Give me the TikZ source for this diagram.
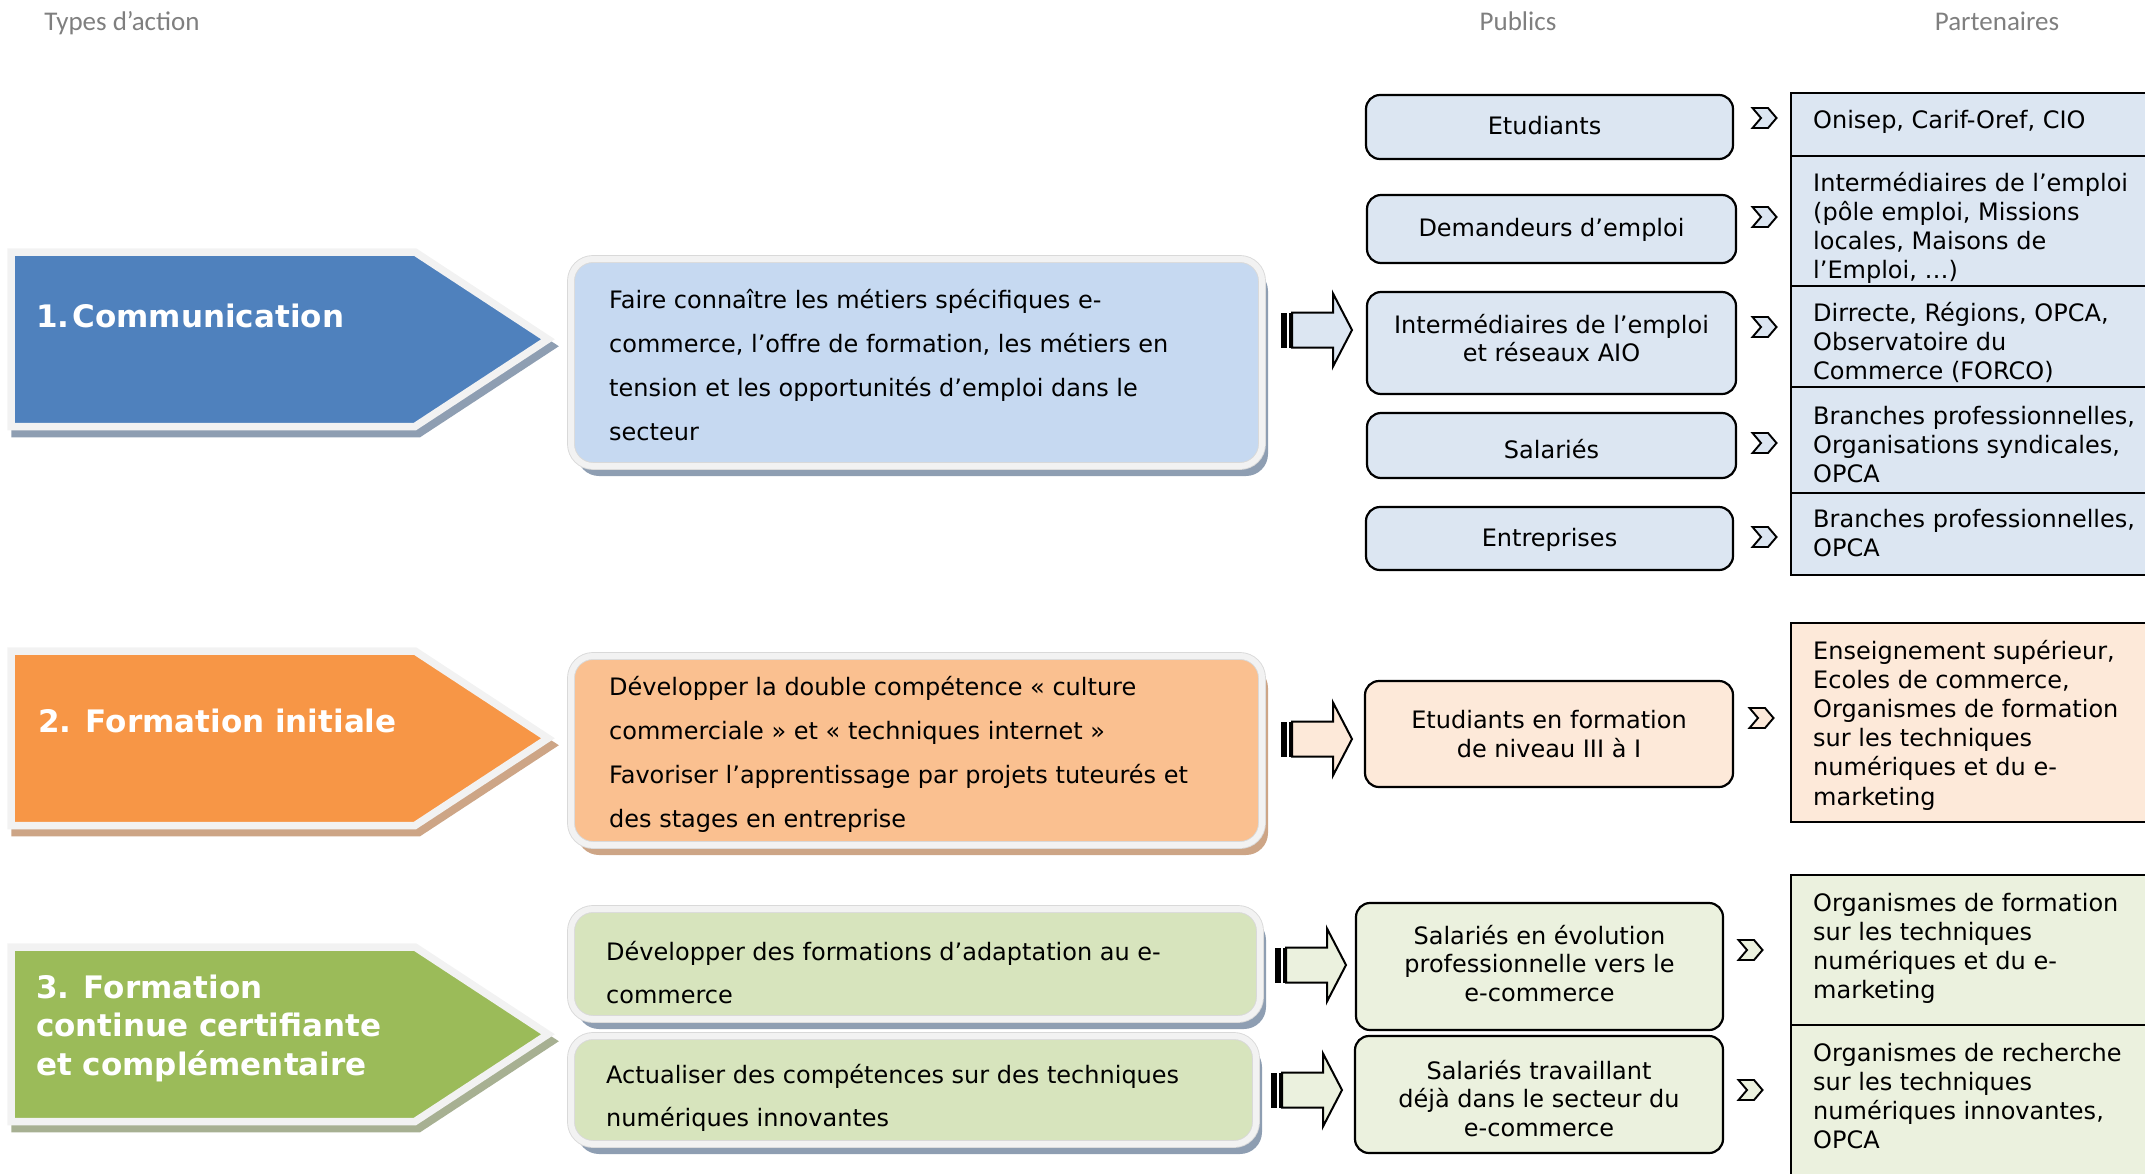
\documentclass[tikz,border=0pt]{standalone}
\usepackage{fontspec}
\setmainfont{DejaVu Sans}
\newfontfamily\hdrfont{Carlito}
\usetikzlibrary{calc}
\definecolor{blueA}{HTML}{4F81BD}
\definecolor{orangeA}{HTML}{F79646}
\definecolor{greenA}{HTML}{9BBB59}
\definecolor{blueP}{HTML}{C6D9F1}
\definecolor{orangeP}{HTML}{FAC090}
\definecolor{greenP}{HTML}{D7E4BD}
\definecolor{blueL}{HTML}{DCE6F2}
\definecolor{orangeL}{HTML}{FDE9D9}
\definecolor{greenL}{HTML}{EBF1DE}
\definecolor{frameC}{HTML}{F2F2F2}
\definecolor{shBlue}{HTML}{8E9EB2}
\definecolor{shTan}{HTML}{CDA586}
\definecolor{shGreen}{HTML}{A7B092}
\definecolor{hdr}{HTML}{7F7F7F}
\newcommand\ptx[1]{\parbox[t]{700pt}{\raggedright #1}}
\newcommand\actarrow[3]{%
  \begin{scope}[shift={(0,#1)}]
    \filldraw[fill=#3, draw=#3, line width=7.5pt, line join=miter, shift={(4,7)}]
      (11,252) -- (415,252) -- (548,339.25) -- (415,426.5) -- (11,426.5) -- cycle;
    \filldraw[fill=#2, arrowframe]
      (11,252) -- (415,252) -- (548,339.25) -- (415,426.5) -- (11,426.5) -- cycle;
  \end{scope}}
\newcommand\stripearrow[3]{%
  \begin{scope}[shift={(#1,#2)}]
    \fill[black] (0,-17.5) rectangle (6,17.5);
    \fill[black] (8,-17.5) rectangle (11,17.5);
    \filldraw[fill=#3, barrow] (11,-17.5) -- (52,-17.5) -- (52,-36.5) -- (71,0)
      -- (52,36.5) -- (52,17.5) -- (11,17.5) -- cycle;
  \end{scope}}
\newcommand\chevmark[3]{%
  \begin{scope}[shift={(#1,#2)}]
    \filldraw[fill=#3, chevstyle] (-12,-10) -- (3.5,-10) -- (12,0) -- (3.5,10)
      -- (-12,10) -- (-3.5,0) -- cycle;
  \end{scope}}
\newcommand\panelshadow[5]{%
  \fill[#5, rounded corners=22pt] (#1,#2) rectangle (#3,#4);}
\tikzset{
  hdrtxt/.style={font=\hdrfont\fontsize{27}{30}\selectfont, text=hdr, inner sep=0pt, anchor=base},
  ttl/.style={font=\fontsize{31}{38.5}\selectfont\bfseries, text=white, inner sep=0pt, anchor=base west},
  mtxt/.style={font=\fontsize{24}{44}\selectfont, text=black, inner sep=0pt, anchor=base west},
  ptxt/.style={font=\fontsize{24}{29.2}\selectfont, text=black, inner sep=0pt, anchor=base west},
  pubbox/.style={draw=black, line width=2.2pt, rounded corners=14pt, inner sep=0pt, outer sep=0pt,
    anchor=north west},
  pubtxt/.style={align=center, font=\fontsize{24}{28.8}\selectfont, inner sep=0pt},
  partbox/.style={draw=black, line width=2.2pt, inner sep=0pt, outer sep=0pt, anchor=north west,
    minimum width=380pt},
  panelbox/.style={draw=black!15, double=frameC, double distance=6pt, line width=0.9pt,
    rounded corners=22pt, inner sep=0pt, outer sep=0pt, anchor=north west},
  arrowframe/.style={draw=frameC, line width=7.5pt, line join=miter},
  barrow/.style={draw=black, line width=2pt, line join=miter},
  chevstyle/.style={draw=black, line width=1.9pt, line join=miter},
}
\begin{document}
\begin{tikzpicture}[x=1pt, y=-1pt]
\useasboundingbox (0,0) rectangle (2145,1173);
\clip (0,0) rectangle (2145,1173);

% headers
\node[hdrtxt] (h1) at (122,30) {Types d’action};
\node[hdrtxt] (h2) at (1518,30) {Publics};
\node[hdrtxt] (h3) at (1997,30) {Partenaires};

% action type arrows
\actarrow{0}{blueA}{shBlue}
\actarrow{399}{orangeA}{shTan}
\actarrow{695}{greenA}{shGreen}
\node[ttl] (t1) at (36,327) {1.\kern3pt Communication};
\node[ttl] (t2) at (38,732) {2. Formation initiale};
\node[ttl] (t3) at (36,998) {\parbox[t]{500pt}{3. Formation\\continue certifiante\\et complémentaire}};

% middle panels
\panelshadow{577}{269}{1268}{476}{shBlue}
\node[panelbox, fill=blueP, minimum width=691pt, minimum height=207pt] (m1) at (571,259) {};
\panelshadow{577}{666}{1268}{855}{shTan}
\node[panelbox, fill=orangeP, minimum width=691pt, minimum height=189pt] (m2) at (571,656) {};
\panelshadow{577}{918}{1266}{1029}{shBlue}
\node[panelbox, fill=greenP, minimum width=689pt, minimum height=110pt] (m3) at (571,909) {};
\panelshadow{577}{1045}{1262}{1154}{shBlue}
\node[panelbox, fill=greenP, minimum width=685pt, minimum height=108pt] (m4) at (571,1036) {};

\node[mtxt] (x1) at (609,308) {\ptx{Faire connaître les métiers spécifiques e-\\commerce, l’offre de formation, les métiers en\\tension et les opportunités d’emploi dans le\\secteur}};
\node[mtxt] (x2) at (609,695) {\ptx{Développer la double compétence « culture\\commerciale » et « techniques internet »\\Favoriser l’apprentissage par projets tuteurés et\\des stages en entreprise}};
\node[mtxt, font=\fontsize{24}{43}\selectfont] (x3) at (606,960) {\ptx{Développer des formations d’adaptation au e-\\commerce}};
\node[mtxt, font=\fontsize{24}{43}\selectfont] (x4) at (606,1083) {\ptx{Actualiser des compétences sur des techniques\\numériques innovantes}};

% striped block arrows
\stripearrow{1281}{330}{blueL}
\stripearrow{1281}{739}{orangeL}
\stripearrow{1275}{965}{greenL}
\stripearrow{1271}{1090}{greenL}

% publics
\node[pubbox, fill=blueL, minimum width=367pt, minimum height=64pt] (u1) at (1366,95) {};
\node[pubbox, fill=blueL, minimum width=369pt, minimum height=68pt] (u2) at (1367,195) {};
\node[pubbox, fill=blueL, minimum width=369pt, minimum height=102pt] (u3) at (1367,292) {};
\node[pubbox, fill=blueL, minimum width=369pt, minimum height=65pt] (u4) at (1367,413) {};
\node[pubbox, fill=blueL, minimum width=367pt, minimum height=63pt] (u5) at (1366,507) {};
\node[pubbox, fill=orangeL, minimum width=368pt, minimum height=106pt] (u6) at (1365,681) {};
\node[pubbox, fill=greenL, minimum width=367pt, minimum height=127pt] (u7) at (1356,903) {};
\node[pubbox, fill=greenL, minimum width=368pt, minimum height=117pt] (u8) at (1355,1036) {};
\node[pubtxt] (u1t) at ([xshift=-5pt, yshift=1pt]u1.center) {Etudiants};
\node[pubtxt] (u2t) at ([yshift=-1pt]u2.center) {Demandeurs d’emploi};
\node[pubtxt] (u3t) at ([yshift=5pt]u3.center) {Intermédiaires de l’emploi\\et réseaux AIO};
\node[pubtxt] (u4t) at ([yshift=-4pt]u4.center) {Salariés};
\node[pubtxt] (u5t) at ([yshift=-1pt]u5.center) {Entreprises};
\node[pubtxt] (u6t) at (u6.center) {Etudiants en formation\\de niveau III à I};
\node[pubtxt] (u7t) at ([yshift=3pt]u7.center) {Salariés en évolution\\professionnelle vers le\\e-commerce};
\node[pubtxt] (u8t) at ([yshift=-4pt]u8.center) {Salariés travaillant\\déjà dans le secteur du\\e-commerce};

% chevrons
\chevmark{1764.5}{118}{blueL}
\chevmark{1764.5}{217}{blueL}
\chevmark{1764.5}{327}{blueL}
\chevmark{1764.5}{443}{blueL}
\chevmark{1764.5}{537}{blueL}
\chevmark{1761.5}{718}{orangeL}
\chevmark{1750.5}{950}{greenL}
\chevmark{1750.5}{1090}{greenL}

% partners
\node[partbox, fill=blueL, minimum height=63pt] (q1) at (1791,93) {};
\node[partbox, fill=blueL, minimum height=130pt] (q2) at (1791,156) {};
\node[partbox, fill=blueL, minimum height=101pt] (q3) at (1791,286) {};
\node[partbox, fill=blueL, minimum height=106pt] (q4) at (1791,387) {};
\node[partbox, fill=blueL, minimum height=82pt] (q5) at (1791,493) {};
\node[partbox, fill=orangeL, minimum height=199pt] (q6) at (1791,623) {};
\node[partbox, fill=greenL, minimum height=150pt] (q7) at (1791,875) {};
\node[partbox, fill=greenL, minimum height=200pt] (q8) at (1791,1025) {};

\node[ptxt] (r1) at (1813,128) {\ptx{Onisep, Carif-Oref, CIO}};
\node[ptxt] (r2) at (1813,191) {\ptx{Intermédiaires de l’emploi\\(pôle emploi, Missions\\locales, Maisons de\\l’Emploi, …)}};
\node[ptxt] (r3) at (1813,321) {\ptx{Dirrecte, Régions, OPCA,\\Observatoire du\\Commerce (FORCO)}};
\node[ptxt] (r4) at (1813,424) {\ptx{Branches professionnelles,\\Organisations syndicales,\\OPCA}};
\node[ptxt] (r5) at (1813,527) {\ptx{Branches professionnelles,\\OPCA}};
\node[ptxt] (r6) at (1813,659) {\ptx{Enseignement supérieur,\\Ecoles de commerce,\\Organismes de formation\\sur les techniques\\numériques et du e-\\marketing}};
\node[ptxt] (r7) at (1813,911) {\ptx{Organismes de formation\\sur les techniques\\numériques et du e-\\marketing}};
\node[ptxt] (r8) at (1813,1061) {\ptx{Organismes de recherche\\sur les techniques\\numériques innovantes,\\OPCA}};
\end{tikzpicture}
\end{document}
